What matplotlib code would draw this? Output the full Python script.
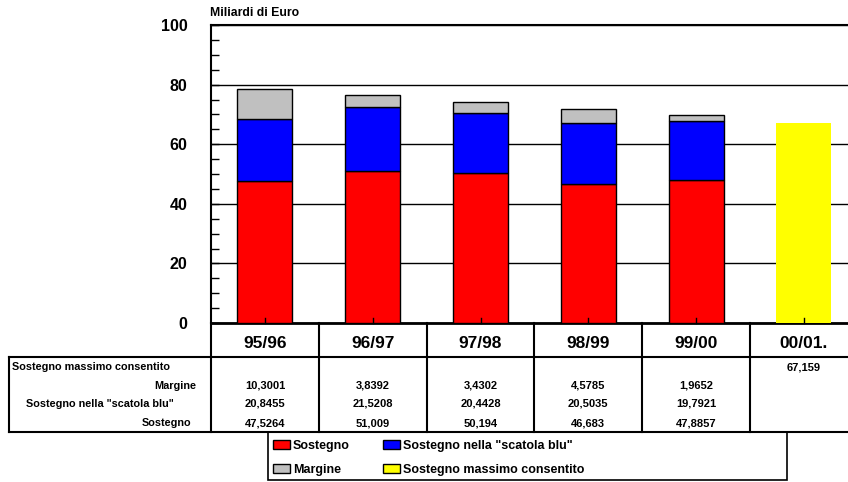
import matplotlib

matplotlib.use('Agg')
import matplotlib.pyplot as plt
import matplotlib.transforms as mtransforms
from matplotlib.patches import Rectangle
from matplotlib.ticker import MultipleLocator
import numpy as np

plt.rcParams['font.family'] = ['Liberation Sans', 'DejaVu Sans']
plt.rcParams['font.weight'] = 'bold'

# dati (miliardi di euro)
anni = ['95/96', '96/97', '97/98', '98/99', '99/00', '00/01.']
sostegno = [47.5264, 51.009, 50.194, 46.683, 47.8857]
scatola_blu = [20.8455, 21.5208, 20.4428, 20.5035, 19.7921]
margine = [10.3001, 3.8392, 3.4302, 4.5785, 1.9652]
massimo = 67.159

W, H = 848, 482
fig = plt.figure(figsize=(W / 100, H / 100), dpi=100)

# assi principali (in pixel -> frazione)
left, bottom, top = 211, 323, 25
ax = fig.add_axes([left / W, 1 - bottom / H, 1 - left / W, (bottom - top) / H])

x = np.arange(len(sostegno))
bw = 0.51
ax.bar(x, sostegno, bw, color='#ff0000', edgecolor='black', linewidth=1, zorder=3)
ax.bar(x, scatola_blu, bw, bottom=sostegno, color='#0000ff', edgecolor='black', linewidth=1, zorder=3)
ax.bar(x, margine, bw, bottom=np.array(sostegno) + np.array(scatola_blu),
       color='#c0c0c0', edgecolor='black', linewidth=1, zorder=3)
ax.bar(len(sostegno), massimo, bw, color='#ffff00', linewidth=0, zorder=3)

ax.set_xlim(-0.5, -0.5 + (W - left) / 107.8)
ax.set_ylim(0, 100)
ax.yaxis.set_major_locator(MultipleLocator(20))
ax.yaxis.set_minor_locator(MultipleLocator(5))
ax.set_xticks([])
# tacche sull'asse x disegnate sopra le barre
for k in range(len(anni)):
    ax.plot([k, k], [0, 1.8], color='black', lw=1, zorder=5, clip_on=False)
ax.tick_params(axis='y', which='both', direction='in', length=6, width=1)
ax.tick_params(axis='y', which='major', pad=17, labelsize=11.5)
for lab in ax.get_yticklabels():
    lab.set_fontweight('bold')
ax.grid(axis='y', color='black', linewidth=1, zorder=1)
ax.spines['right'].set_visible(False)
ax.spines['bottom'].set_linewidth(2)
ax.spines['top'].set_linewidth(1.5)
ax.spines['left'].set_linewidth(1.5)

fig.text(210 / W, 1 - 13 / H, 'Miliardi di Euro', fontsize=8.8, fontweight='bold', va='center', ha='left')

# tabella sotto il grafico
tr = mtransforms.blended_transform_factory(ax.transData, fig.transFigure)
fy = lambda py: 1 - py / H
fx = lambda px: px / W

y_head, y_tab, y_end = 323, 357, 432
# confini verticali delle colonne
for k in range(len(anni)):
    ax.plot([k - 0.5, k - 0.5], [fy(y_head), fy(y_end)], transform=tr, color='black',
            lw=1.5, clip_on=False)
    ax.text(k, fy(343), anni[k], transform=tr, ha='center', va='center',
            fontsize=12.5, fontweight='bold')
fig.add_artist(plt.Line2D([fx(9), 1], [fy(y_tab), fy(y_tab)], color='black', lw=1.5))
fig.add_artist(plt.Line2D([fx(9), 1], [fy(y_end), fy(y_end)], color='black', lw=1.5))
fig.add_artist(plt.Line2D([fx(9), fx(9)], [fy(y_tab), fy(y_end)], color='black', lw=1.5))

rows = [('Sostegno massimo consentito', 367, fx(12), 'left'),
        ('Margine', 386, fx(196), 'right'),
        ('Sostegno nella "scatola blu"', 404, fx(100), 'center'),
        ('Sostegno', 423, fx(191), 'right')]
for lab, py, px, ha in rows:
    fig.text(px, fy(py), lab, fontsize=7.8, fontweight='bold', ha=ha, va='center')

fmt = lambda v: str(v).replace('.', ',')
for k in range(len(sostegno)):
    ax.text(k, fy(386), fmt(margine[k]), transform=tr, ha='center', va='center', fontsize=8)
    ax.text(k, fy(404), fmt(scatola_blu[k]), transform=tr, ha='center', va='center', fontsize=8)
    ax.text(k, fy(423), fmt(sostegno[k]), transform=tr, ha='center', va='center', fontsize=8)
ax.text(len(sostegno), fy(367), fmt(massimo), transform=tr, ha='center', va='center', fontsize=8)

# legenda disegnata a mano
fig.add_artist(Rectangle((fx(268), fy(480)), fx(787) - fx(268), fy(432) - fy(480),
                         fill=False, edgecolor='black', lw=1.2))
legend_items = [('Sostegno', '#ff0000', 273, 446), ('Sostegno nella "scatola blu"', '#0000ff', 383, 446),
                ('Margine', '#c0c0c0', 273, 470), ('Sostegno massimo consentito', '#ffff00', 383, 470)]
for lab, col, px, py in legend_items:
    fig.add_artist(Rectangle((fx(px), fy(py + 3)), fx(17), 9 / H, facecolor=col,
                             edgecolor='black', lw=1))
    fig.text(fx(px + 20), fy(py), lab, fontsize=9, fontweight='bold', va='center', ha='left')

fig.savefig('out.png', dpi=100)
